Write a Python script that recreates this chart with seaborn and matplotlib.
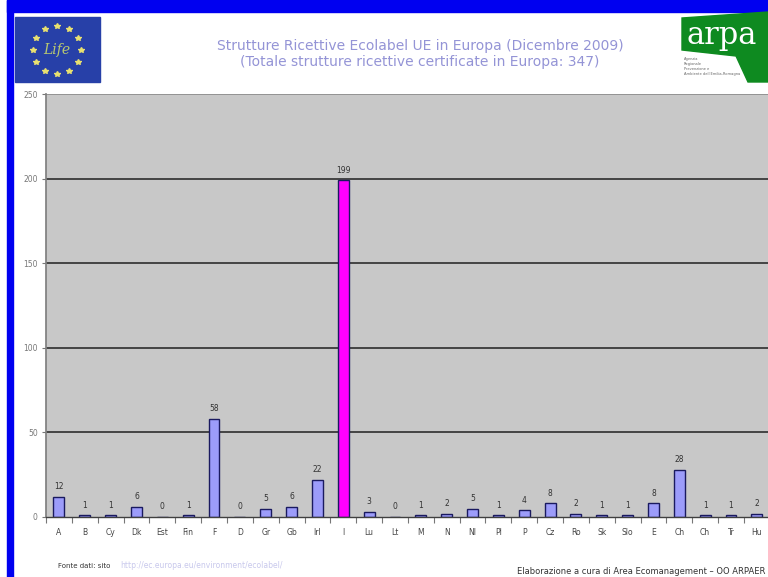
import numpy as np
import pandas as pd
import matplotlib
matplotlib.use("Agg")
import matplotlib.pyplot as plt
from matplotlib.patches import Rectangle, Polygon
import seaborn as sns

# Ecolabel-certified accommodation per country (December 2009)
countries = ["A", "B", "Cy", "Dk", "Est", "Fin", "F", "D", "Gr", "Gb", "Irl", "I",
             "Lu", "Lt", "M", "N", "Nl", "Pl", "P", "Cz", "Ro", "Sk", "Slo", "E",
             "Ch", "Ch", "Tr", "Hu"]
structures = [12, 1, 1, 6, 0, 1, 58, 0, 5, 6, 22, 199,
              3, 0, 1, 2, 5, 1, 4, 8, 2, 1, 1, 8,
              28, 1, 1, 2]
highlight = "I"
y_ticks = [0, 50, 100, 150, 200, 250]

title_lines = ["Strutture Ricettive Ecolabel UE in Europa (Dicembre 2009)",
               "(Totale strutture ricettive certificate in Europa: 347)"]

W, H = 768, 577
sns.set_theme(style="white")
plt.rcParams["font.family"] = ["DejaVu Sans"]

fig = plt.figure(figsize=(W / 100, H / 100), dpi=100, facecolor="white")


def fx(px):
    return px / W


def fy(py):
    return 1 - py / H


# blue frame
fig.patches.append(Rectangle((fx(7), fy(12)), fx(W), 12 / H, transform=fig.transFigure,
                             color="#0000F0", zorder=0))
fig.patches.append(Rectangle((fx(7), 0), fx(6), 1, transform=fig.transFigure,
                             color="#0000F0", zorder=0))

# plot area
n = len(countries)
step = 25.85
left_px, top_px, base_px = 46, 94, 517
ax = fig.add_axes([fx(left_px), fy(base_px), n * step / W, (base_px - top_px) / H])
ax.set_facecolor("#C8C8C8")

df = pd.DataFrame({"pos": np.arange(n), "country": countries, "value": structures})
palette = {i: ("#FF00FF" if c == highlight else "#9C9CFA") for i, c in enumerate(countries)}
sns.barplot(data=df, x="pos", y="value", hue="pos", palette=palette, legend=False,
            width=0.42, edgecolor="#1A1A60", linewidth=1.0, saturation=1, ax=ax)

for bar, v in zip(ax.patches, structures):
    ax.annotate(str(v), (bar.get_x() + bar.get_width() / 2, v),
                xytext=(0, 4), textcoords="offset points", ha="center", va="bottom",
                fontsize=5.5, color="#333333")

ax.set_xlim(-0.5, n - 0.5)
ax.set_ylim(0, 250)
ax.set_yticks(y_ticks)
ax.set_yticklabels([str(t) for t in y_ticks], fontsize=5.5, color="#777777")
for t in y_ticks[1:-1]:
    ax.axhline(t, color="#202020", lw=1.1, zorder=0.5)
ax.axhline(250, color="#8A8A8A", lw=1.2)

ax.set_xticks(np.arange(n))
ax.set_xticklabels(countries, fontsize=5.5, color="#444444")
ax.set_xticks(np.arange(n + 1) - 0.5, minor=True)
ax.tick_params(axis="x", which="major", length=0, pad=8)
ax.tick_params(axis="x", which="minor", length=4, color="#777777", width=0.8, bottom=True)
ax.tick_params(axis="y", length=3, color="#777777", width=0.8, pad=3, left=True)
ax.set_xlabel("")
ax.set_ylabel("")
for side in ["top", "right"]:
    ax.spines[side].set_visible(False)
ax.spines["left"].set_color("#808080")
ax.spines["bottom"].set_color("#404040")
ax.spines["bottom"].set_linewidth(1.0)

# titles
for i, line in enumerate(title_lines):
    fig.text(fx(420), fy(46 + 16 * i), line, ha="center", va="center",
             fontsize=10, color="#9494D6")

# EU LIFE emblem
fig.patches.append(Rectangle((fx(15), fy(82)), fx(85), 65 / H, transform=fig.transFigure,
                             color="#2740A8", zorder=1))
ang = np.linspace(0, 2 * np.pi, 13)[:-1]
fig.add_artist(plt.Line2D(fx(57 + 24 * np.cos(ang)), fy(50 + 24 * np.sin(ang)),
                          ls="none", marker="*", ms=4, color="#E8E070",
                          transform=fig.transFigure))
fig.text(fx(57), fy(50), "Life", ha="center", va="center", fontsize=10,
         style="italic", color="#B8C870", family="DejaVu Serif")

# ARPA logo
pts = [(682, 18), (768, 12), (768, 82), (748, 82), (736, 56), (682, 50)]
fig.patches.append(Polygon([(fx(x), fy(y)) for x, y in pts], closed=True,
                           transform=fig.transFigure, color="#0E8A20", zorder=1))
fig.text(fx(686), fy(44), "arpa", ha="left", va="baseline", fontsize=22,
         color="white", family="DejaVu Serif")
for i, s in enumerate(["Agenzia", "Regionale", "Prevenzione e", "Ambiente dell'Emilia-Romagna"]):
    fig.text(fx(684), fy(59 + 5 * i), s, ha="left", va="center", fontsize=2.6,
             color="#666666")

# footer
fig.text(fx(58), fy(566), "Fonte dati: sito", ha="left", va="center",
         fontsize=5, color="#333333")
fig.text(fx(120), fy(566), "http://ec.europa.eu/environment/ecolabel/", ha="left",
         va="center", fontsize=5.5, color="#C8C8EC")
fig.text(fx(765), fy(572), "Elaborazione a cura di Area Ecomanagement \u2013 OO ARPAER",
         ha="right", va="center", fontsize=6, color="#333333")

fig.savefig("out.png", dpi=100, facecolor="white")
